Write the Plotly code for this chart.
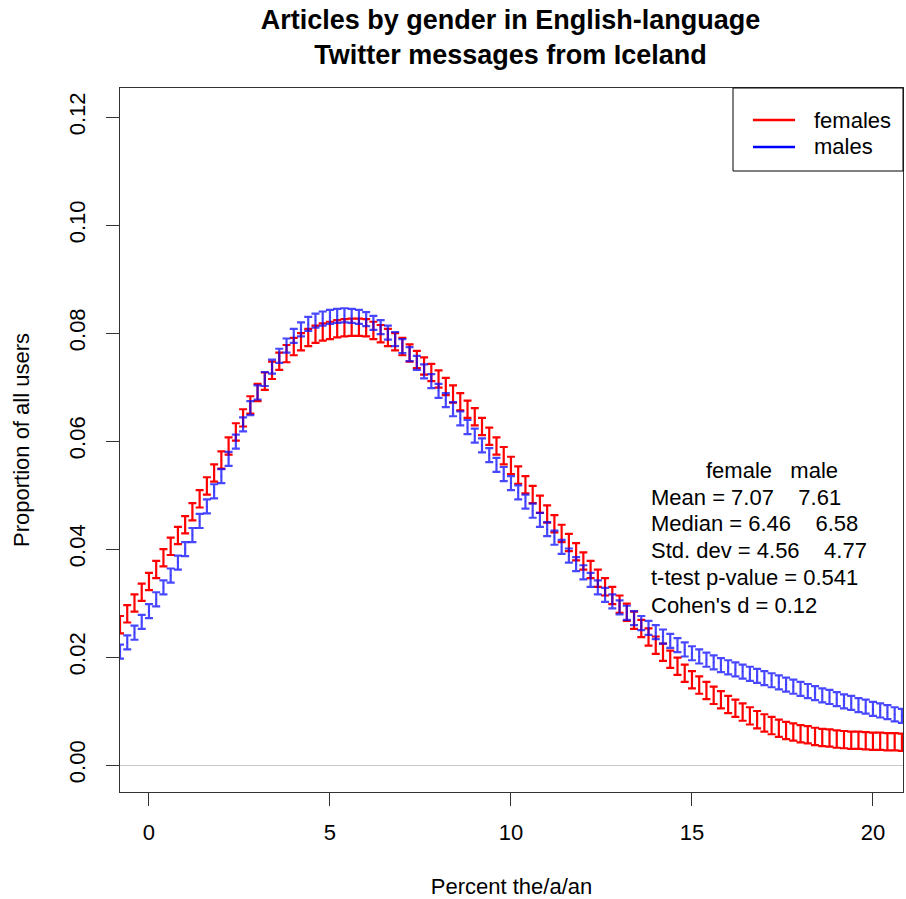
import plotly.graph_objects as go

x_vals = [round(-0.8 + 0.2 * i, 1) for i in range(109)]

females = [0.0260, 0.0280, 0.0300, 0.0320, 0.0340, 0.0362, 0.0384, 0.0405, 0.0425, 0.0445,
           0.0469, 0.0493, 0.0517, 0.0541, 0.0565, 0.0591, 0.0617, 0.0643, 0.0667, 0.0690,
           0.0711, 0.0731, 0.0748, 0.0762, 0.0775, 0.0784, 0.0792, 0.0798, 0.0802, 0.0805,
           0.0808, 0.0810, 0.0811, 0.0811, 0.0810, 0.0805, 0.0799, 0.0792, 0.0784, 0.0775,
           0.0763, 0.0751, 0.0739, 0.0727, 0.0715, 0.0701, 0.0687, 0.0673, 0.0659, 0.0645,
           0.0627, 0.0609, 0.0591, 0.0573, 0.0555, 0.0537, 0.0519, 0.0501, 0.0483, 0.0465,
           0.0447, 0.0429, 0.0412, 0.0395, 0.0378, 0.0362, 0.0346, 0.0330, 0.0314, 0.0298,
           0.0283, 0.0268, 0.0253, 0.0237, 0.0222, 0.0209, 0.0196, 0.0183, 0.0170, 0.0158,
           0.0148, 0.0138, 0.0129, 0.0121, 0.0112, 0.0105, 0.0098, 0.0091, 0.0084, 0.0078,
           0.0073, 0.0068, 0.0064, 0.0061, 0.0058, 0.0056, 0.0053, 0.0051, 0.0050, 0.0048,
           0.0047, 0.0046, 0.0046, 0.0045, 0.0044, 0.0044, 0.0043, 0.0043, 0.0042]

males = [0.0210, 0.0227, 0.0245, 0.0265, 0.0285, 0.0307, 0.0329, 0.0351, 0.0375, 0.0400,
         0.0426, 0.0452, 0.0479, 0.0507, 0.0535, 0.0567, 0.0599, 0.0631, 0.0661, 0.0690,
         0.0715, 0.0738, 0.0758, 0.0777, 0.0795, 0.0807, 0.0817, 0.0823, 0.0827, 0.0830,
         0.0832, 0.0833, 0.0832, 0.0830, 0.0826, 0.0819, 0.0811, 0.0801, 0.0789, 0.0776,
         0.0761, 0.0745, 0.0729, 0.0711, 0.0693, 0.0676, 0.0659, 0.0642, 0.0626, 0.0610,
         0.0592, 0.0574, 0.0556, 0.0539, 0.0522, 0.0505, 0.0488, 0.0471, 0.0454, 0.0437,
         0.0421, 0.0404, 0.0388, 0.0372, 0.0357, 0.0343, 0.0329, 0.0315, 0.0303, 0.0292,
         0.0282, 0.0272, 0.0263, 0.0254, 0.0246, 0.0238, 0.0230, 0.0222, 0.0214, 0.0207,
         0.0201, 0.0195, 0.0190, 0.0185, 0.0181, 0.0177, 0.0173, 0.0169, 0.0165, 0.0161,
         0.0157, 0.0153, 0.0149, 0.0145, 0.0141, 0.0137, 0.0133, 0.0129, 0.0126, 0.0122,
         0.0118, 0.0115, 0.0111, 0.0108, 0.0104, 0.0101, 0.0098, 0.0094, 0.0091]

females_err = 0.0016
males_err = 0.0013

x_ticks = [0, 5, 10, 15, 20]
y_ticks = [0.00, 0.02, 0.04, 0.06, 0.08, 0.10, 0.12]

legend_names = ["females", "males"]
legend_colors = ["red", "blue"]

stats_header = "female   male"
stats_lines = ["Mean = 7.07    7.61",
               "Median = 6.46    6.58",
               "Std. dev = 4.56    4.77",
               "t-test p-value = 0.541",
               "Cohen's d = 0.12"]

FONT = "Liberation Sans, Arial, sans-serif"
FS = 22

fig = go.Figure()

fig.add_trace(go.Scatter(
    x=x_vals, y=females, mode="markers",
    marker=dict(size=1, color="red"),
    error_y=dict(type="constant", value=females_err, color="red", thickness=2.2, width=4),
    showlegend=False, cliponaxis=True))

fig.add_trace(go.Scatter(
    x=x_vals, y=males, mode="markers",
    marker=dict(size=1, color="rgba(0,0,255,0.75)"),
    error_y=dict(type="constant", value=males_err, color="rgba(10,10,255,0.75)", thickness=2.2, width=4),
    showlegend=False, cliponaxis=True))

# stats text
ann = [dict(x=15.33, y=0.0546, xref="x", yref="y", text=stats_header, showarrow=False,
            xanchor="left", yanchor="middle", font=dict(size=FS, color="black", family=FONT))]
stat_y = [0.0496, 0.0448, 0.0398, 0.0348, 0.0296]
for t, yy in zip(stats_lines, stat_y):
    ann.append(dict(x=13.82, y=yy, xref="x", yref="y", text=t, showarrow=False,
                    xanchor="left", yanchor="middle", font=dict(size=FS, color="black", family=FONT)))

# legend (box drawn in paper coordinates, R-style)
shapes = [dict(type="rect", xref="paper", yref="paper", x0=0.7829, x1=1.0, y0=0.8821, y1=1.0,
               line=dict(color="black", width=1), fillcolor="white", layer="above")]
leg_y = [0.9545, 0.9162]
for name, col, ly in zip(legend_names, legend_colors, leg_y):
    shapes.append(dict(type="line", xref="paper", yref="paper", x0=0.8084, x1=0.8621, y0=ly, y1=ly,
                       line=dict(color=col, width=2.5), layer="above"))
    ann.append(dict(x=0.8838, y=ly, xref="paper", yref="paper", text=name, showarrow=False,
                    xanchor="left", yanchor="middle", font=dict(size=FS, color="black", family=FONT)))

fig.update_layout(
    width=906, height=899,
    margin=dict(l=120, r=3, t=88, b=107),
    paper_bgcolor="white", plot_bgcolor="white",
    font=dict(family=FONT, size=FS, color="black"),
    showlegend=False,
    title=dict(text="<b>Articles by gender in English-language<br>Twitter messages from Iceland</b>",
               x=0.5635, xanchor="center", y=0.968, yanchor="top",
               font=dict(size=27, color="black", family=FONT)),
    annotations=ann,
    shapes=shapes,
)

fig.update_xaxes(range=[-0.8, 20.83], tickvals=x_ticks, ticks="outside", ticklen=13,
                 tickcolor="#333333", showline=True, linecolor="#333333", linewidth=1,
                 mirror=True, showgrid=False, zeroline=False, ticklabelstandoff=8,
                 tickfont=dict(size=FS),
                 title=dict(text="Percent the/a/an", standoff=36, font=dict(size=FS)))
fig.update_yaxes(range=[-0.005, 0.1254], tickvals=y_ticks, tickformat=".2f", tickangle=-90,
                 ticks="outside", ticklen=13, tickcolor="#333333", showline=True,
                 linecolor="#333333", linewidth=1, mirror=True, showgrid=False,
                 zeroline=True, zerolinecolor="#c8c8c8", zerolinewidth=1, ticklabelstandoff=12,
                 tickfont=dict(size=FS),
                 title=dict(text="Proportion of all users", standoff=29, font=dict(size=FS)))

fig.write_html("out.html")
